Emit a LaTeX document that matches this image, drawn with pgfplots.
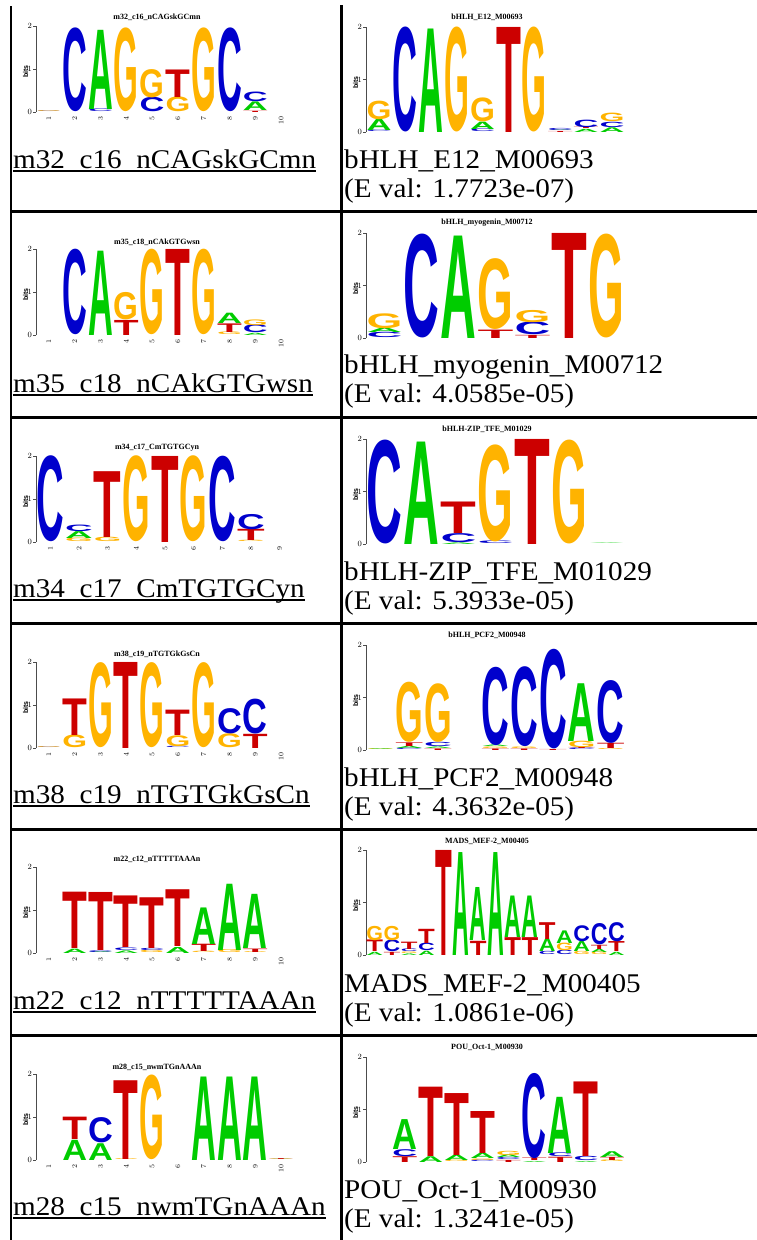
\documentclass[border=0pt]{standalone}
\usepackage{fontspec}
\setmainfont{Liberation Serif}
\newfontfamily\capfont[FakeStretch=1.08]{Liberation Serif}
\newfontfamily\lsans{Liberation Sans}
\newfontfamily\narrowsans[FakeStretch=0.7]{Liberation Sans}
\usepackage{pgfplots}
\pgfplotsset{compat=1.18}

\definecolor{ntA}{RGB}{0,204,0}
\definecolor{ntC}{RGB}{0,0,204}
\definecolor{ntG}{RGB}{255,179,0}
\definecolor{ntT}{RGB}{204,0,0}

\newdimen\letterh
\pgfdeclareplotmark{nomark}{}

\pgfplotsset{
  letter width/.initial=25pt,
  bit height/.initial=43pt,
  logo/.style={
    scale only axis, anchor=south west,
    xmin=0.5, ymin=0, ymax=2,
    axis y line*=left, axis x line*=bottom,
    x axis line style={draw=none}, xtick style={draw=none},
    ytick={0,1,2},
    y axis line style={line width=0.5pt, black!70},
    ytick style={line width=0.5pt, black!70},
    tick align=outside, major tick length=3pt,
    yticklabel style={font=\narrowsans\bfseries\fontsize{8}{8}\selectfont, inner sep=1pt},
    xticklabel style={font=\narrowsans\bfseries\fontsize{7}{7}\selectfont, rotate=90, anchor=east, inner sep=1.5pt},
    ylabel={bits},
    every axis y label/.style={at={(axis description cs:0,0.47)}, anchor=center, xshift=-10.5pt, rotate=90,
      font=\lsans\bfseries\fontsize{7}{7}\selectfont},
    clip=false,
  },
  leftlogo/.style={logo, width=258pt, height=86pt, bit height=43pt},
  rightlogo/.style={logo, width=259pt, height=105pt, bit height=52.5pt, xtick=\empty},
  letters/.style={
    only marks, scatter, mark=nomark,
    visualization depends on={value \thisrow{h} \as \lbits},
    visualization depends on={value \thisrow{l} \as \ltr},
    scatter/@pre marker code/.code={%
      \letterh=\lbits\dimexpr\pgfkeysvalueof{/pgfplots/bit height}\relax
      \pgfset{inner xsep=0pt, inner ysep=0pt, outer xsep=0pt, outer ysep=0pt}%
      \pgfnode{rectangle}{south}%
        {\color{nt\ltr}\resizebox{\pgfkeysvalueof{/pgfplots/letter width}}{\letterh}{\lsans\bfseries\ltr}}%
        {}{\pgfusepath{discard}}%
    },
    scatter/@post marker code/.code={},
  },
}

\begin{document}
\begin{tikzpicture}[x=1pt,y=1pt]

% table rules
\draw[line width=2.2pt] (11,-6) -- (11,-1241);
\draw[line width=3pt] (341.5,-5) -- (341.5,-1241);
\foreach \yy in {211.5,417.3,623.3,829.8,1035.7}
  \draw[line width=2.7pt] (10,-\yy) -- (760,-\yy);

% ---------------- row 1 ----------------
\begin{axis}[leftlogo, at={(36pt,-112pt)}, xmax=10.5, xtick={1,...,10}, letter width=24.8pt]
\addplot[letters] table[row sep=\\] {
x y h l\\
1 0 0.015 C\\ 1 0.015 0.02 G\\
2 0 1.92 C\\
3 0 0.06 C\\ 3 0.06 1.84 A\\
4 0 1.92 G\\
5 0 0.33 C\\ 5 0.33 0.65 G\\
6 0 0.34 G\\ 6 0.34 0.64 T\\
7 0 1.92 G\\
8 0 1.92 C\\
9 0 0.03 T\\ 9 0.03 0.2 A\\ 9 0.23 0.22 C\\
};
\end{axis}
\begin{axis}[rightlogo, at={(366pt,-132pt)}, xmax=10.5, letter width=24.9pt]
\addplot[letters] table[row sep=\\] {
x y h l\\
1 0 0.03 C\\ 1 0.03 0.21 A\\ 1 0.24 0.35 G\\
2 0 1.97 C\\
3 0 1.97 A\\
4 0 1.97 G\\
5 0 0.05 C\\ 5 0.05 0.14 A\\ 5 0.19 0.45 G\\
6 0 2.0 T\\
7 0 1.97 G\\
8 0 0.02 T\\ 8 0.02 0.01 A\\ 8 0.03 0.04 C\\
9 0 0.06 A\\ 9 0.06 0.03 T\\ 9 0.09 0.14 C\\
10 0 0.09 A\\ 10 0.09 0.1 C\\ 10 0.19 0.16 G\\
};
\end{axis}

% ---------------- row 2 ----------------
\begin{axis}[leftlogo, at={(36pt,-335pt)}, xmax=10.5, xtick={1,...,10}, letter width=24.8pt]
\addplot[letters] table[row sep=\\] {
x y h l\\
2 0 1.96 C\\
3 0 1.96 A\\
4 0 0.35 T\\ 4 0.35 0.63 G\\
5 0 1.96 G\\
6 0 2.0 T\\
7 0 1.96 G\\
8 0 0.06 G\\ 8 0.06 0.2 T\\ 8 0.26 0.24 A\\
9 0 0.05 A\\ 9 0.05 0.18 C\\ 9 0.23 0.13 G\\
};
\end{axis}
\begin{axis}[rightlogo, at={(366pt,-338pt)}, xmax=7.5, letter width=35.8pt]
\addplot[letters] table[row sep=\\] {
x y h l\\
1 0 0.1 C\\ 1 0.1 0.08 A\\ 1 0.18 0.28 G\\
2 0 1.95 C\\
3 0 1.95 A\\
4 0 0.16 T\\ 4 0.16 1.33 G\\
5 0 0.06 T\\ 5 0.06 0.24 C\\ 5 0.3 0.23 G\\
6 0 2.0 T\\
7 0 1.95 G\\
};
\end{axis}

% ---------------- row 3 ----------------
\begin{axis}[leftlogo, at={(36pt,-542pt)}, xmax=9.5, xtick={1,...,9}, letter width=27.6pt]
\addplot[letters] table[row sep=\\] {
x y h l\\
1 0 1.97 C\\
2 0 0.08 G\\ 2 0.08 0.16 A\\ 2 0.24 0.15 C\\
3 0 0.1 G\\ 3 0.1 1.53 T\\
4 0 1.97 G\\
5 0 2.0 T\\
6 0 1.97 G\\
7 0 1.96 C\\
8 0 0.03 G\\ 8 0.03 0.26 T\\ 8 0.29 0.35 C\\
};
\end{axis}
\begin{axis}[rightlogo, at={(366pt,-544pt)}, xmax=7.5, letter width=35.8pt]
\addplot[letters] table[row sep=\\] {
x y h l\\
1 0 1.95 C\\
2 0 1.95 A\\
3 0 0.03 A\\ 3 0.03 0.17 C\\ 3 0.2 0.6 T\\
4 0 0.05 C\\ 4 0.05 1.82 G\\
5 0 2.0 T\\
6 0 1.95 G\\
7 0 0.01 A\\
};
\end{axis}

% ---------------- row 4 ----------------
\begin{axis}[leftlogo, at={(36pt,-748pt)}, xmax=10.5, xtick={1,...,10}, letter width=24.8pt]
\addplot[letters] table[row sep=\\] {
x y h l\\
1 0 0.015 C\\ 1 0.015 0.02 G\\
2 0 0.29 G\\ 2 0.29 0.85 T\\
3 0 1.95 G\\
4 0 2.0 T\\
5 0 1.95 G\\
6 0 0.03 C\\ 6 0.03 0.25 G\\ 6 0.28 0.59 T\\
7 0 1.95 G\\
8 0 0.32 G\\ 8 0.32 0.58 C\\
9 0 0.33 T\\ 9 0.33 0.8 C\\
};
\end{axis}
\begin{axis}[rightlogo, at={(366pt,-750pt)}, xmax=9.5, letter width=27.7pt]
\addplot[letters] table[row sep=\\] {
x y h l\\
1 0 0.015 G\\ 1 0.015 0.015 A\\
2 0 0.03 C\\ 2 0.03 0.04 A\\ 2 0.07 0.07 T\\ 2 0.14 1.13 G\\
3 0 0.03 T\\ 3 0.03 0.03 A\\ 3 0.06 0.08 C\\ 3 0.14 1.1 G\\
5 0 0.03 T\\ 5 0.03 0.03 G\\ 5 0.06 0.03 A\\ 5 0.09 1.47 C\\
6 0 0.03 T\\ 6 0.03 0.03 G\\ 6 0.06 1.5 C\\
7 0 0.02 T\\ 7 0.02 1.87 C\\
8 0 0.03 C\\ 8 0.03 0.02 T\\ 8 0.05 0.12 G\\ 8 0.17 1.1 A\\
9 0 0.02 G\\ 9 0.02 0.1 T\\ 9 0.12 1.18 C\\
};
\end{axis}

% ---------------- row 5 ----------------
\begin{axis}[leftlogo, at={(36pt,-953pt)}, xmax=10.5, xtick={1,...,10}, letter width=24.8pt]
\addplot[letters] table[row sep=\\] {
x y h l\\
2 0 0.1 A\\ 2 0.1 1.31 T\\
3 0 0.02 A\\ 3 0.02 0.04 C\\ 3 0.06 1.35 T\\
4 0 0.06 A\\ 4 0.06 0.06 C\\ 4 0.12 1.2 T\\
5 0 0.05 G\\ 5 0.05 0.05 C\\ 5 0.1 1.18 T\\
6 0 0.14 A\\ 6 0.14 1.32 T\\
7 0 0.03 G\\ 7 0.03 0.17 T\\ 7 0.2 0.85 A\\
8 0 0.07 G\\ 8 0.07 1.54 A\\
9 0 0.02 G\\ 9 0.02 0.08 T\\ 9 0.1 1.26 A\\
};
\end{axis}
\begin{axis}[rightlogo, at={(366pt,-955pt)}, xmax=15.5, letter width=16.7pt]
\addplot[letters] table[row sep=\\] {
x y h l\\
1 0 0.06 A\\ 1 0.06 0.22 T\\ 1 0.28 0.27 G\\
2 0 0.06 T\\ 2 0.06 0.22 C\\ 2 0.28 0.27 G\\
3 0 0.03 A\\ 3 0.03 0.03 G\\ 3 0.06 0.05 C\\ 3 0.11 0.14 T\\
4 0 0.08 A\\ 4 0.08 0.14 C\\ 4 0.22 0.27 T\\
5 0 2.0 T\\
6 0 1.96 A\\
7 0 0.27 T\\ 7 0.27 1.01 A\\
8 0 1.96 A\\
9 0 0.34 T\\ 9 0.34 0.79 A\\
10 0 0.34 T\\ 10 0.34 0.79 A\\
11 0 0.06 C\\ 11 0.06 0.24 A\\ 11 0.3 0.32 T\\
12 0 0.08 C\\ 12 0.08 0.14 G\\ 12 0.22 0.24 A\\
13 0 0.06 G\\ 13 0.06 0.19 A\\ 13 0.25 0.3 C\\
14 0 0.05 G\\ 14 0.05 0.06 A\\ 14 0.11 0.08 T\\ 14 0.19 0.4 C\\
15 0 0.06 A\\ 15 0.06 0.19 T\\ 15 0.25 0.36 C\\
};
\end{axis}

% ---------------- row 6 ----------------
\begin{axis}[leftlogo, at={(36pt,-1160pt)}, xmax=10.5, xtick={1,...,10}, letter width=24.8pt]
\addplot[letters] table[row sep=\\] {
x y h l\\
2 0 0.47 A\\ 2 0.47 0.52 T\\
3 0 0.39 A\\ 3 0.39 0.58 C\\
4 0 0.02 G\\ 4 0.02 1.83 T\\
5 0 1.94 G\\
7 0 1.94 A\\
8 0 1.94 A\\
9 0 1.94 A\\
10 0 0.01 A\\ 10 0.01 0.01 G\\ 10 0.02 0.02 T\\
};
\end{axis}
\begin{axis}[rightlogo, at={(366pt,-1162pt)}, xmax=10.5, letter width=24.9pt]
\addplot[letters] table[row sep=\\] {
x y h l\\
2 0 0.11 T\\ 2 0.11 0.13 C\\ 2 0.24 0.57 A\\
3 0 0.11 A\\ 3 0.11 1.32 T\\
4 0 0.03 G\\ 4 0.03 0.1 A\\ 4 0.13 1.18 T\\
5 0 0.03 C\\ 5 0.03 0.03 G\\ 5 0.06 0.1 A\\ 5 0.16 0.8 T\\
6 0 0.04 T\\ 6 0.04 0.04 C\\ 6 0.08 0.05 A\\ 6 0.13 0.08 G\\
7 0 0.02 A\\ 7 0.02 0.05 T\\ 7 0.07 1.6 C\\
8 0 0.1 T\\ 8 0.1 0.07 C\\ 8 0.17 1.07 A\\
9 0 0.02 A\\ 9 0.02 0.08 C\\ 9 0.1 1.42 T\\
10 0 0.03 G\\ 10 0.03 0.06 T\\ 10 0.09 0.11 A\\
};
\end{axis}

% logo titles
\begin{scope}[every node/.style={anchor=center, inner sep=0pt, font=\bfseries\fontsize{8}{8}\selectfont}]
\foreach \yy/\txt in {17/m32\_c16\_nCAGskGCmn, 242/m35\_c18\_nCAkGTGwsn,
  448/m34\_c17\_CmTGTGCyn, 654/m38\_c19\_nTGTGkGsCn,
  859/m22\_c12\_nTTTTTAAAn, 1067/m28\_c15\_nwmTGnAAAn}
  \node at (157,-\yy) {\txt};
\foreach \yy/\txt in {17/bHLH\_E12\_M00693, 223/bHLH\_myogenin\_M00712,
  429/bHLH-ZIP\_TFE\_M01029, 635/bHLH\_PCF2\_M00948,
  841/MADS\_MEF-2\_M00405, 1047/POU\_Oct-1\_M00930}
  \node at (487,-\yy) {\txt};
\end{scope}

% captions, left column (underlined links)
\begin{scope}[every node/.style={anchor=base west, inner sep=0pt, font=\capfont\fontsize{27}{29}\selectfont}]
\foreach \yy/\txt in {168/m32\_c16\_nCAGskGCmn, 392/m35\_c18\_nCAkGTGwsn,
  597/m34\_c17\_CmTGTGCyn, 803/m38\_c19\_nTGTGkGsCn,
  1009/m22\_c12\_nTTTTTAAAn, 1215/m28\_c15\_nwmTGnAAAn}{
  \node (cap) at (13,-\yy) {\txt};
  \draw[line width=2pt] ([yshift=-3.3pt]cap.base west) -- ([yshift=-3.3pt]cap.base east);
}
% captions, right column
\foreach \yy/\txt/\ev in {168/bHLH\_E12\_M00693/1.7723e-07,
  373/bHLH\_myogenin\_M00712/4.0585e-05,
  580/bHLH-ZIP\_TFE\_M01029/5.3933e-05,
  786/bHLH\_PCF2\_M00948/4.3632e-05,
  992/MADS\_MEF-2\_M00405/1.0861e-06,
  1198/POU\_Oct-1\_M00930/1.3241e-05}{
  \node at (344,-\yy) {\txt};
  \node at (344,-\yy-29) {(E val: \ev)};
}
\end{scope}

\pgfresetboundingbox
\path[use as bounding box] (0,0) rectangle (757,-1240);
\end{tikzpicture}
\end{document}
